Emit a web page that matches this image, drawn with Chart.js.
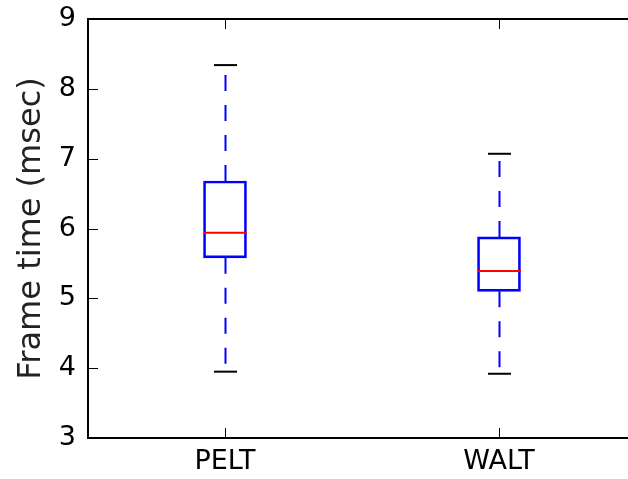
<!DOCTYPE html>
<html>
<head>
<meta charset="utf-8">
<script src="https://cdn.jsdelivr.net/npm/chart.js@4"></script>
<style>
  html, body { margin: 0; padding: 0; background: #fff; overflow: hidden; }
  #wrap { width: 640px; height: 479px; }
</style>
</head>
<body>
<div id="wrap"><canvas id="myChart"></canvas></div>
<script>
// box plot data
const labels = ["PELT", "WALT"];
const whiskerLow = [3.95, 3.92];
const q1 = [5.58, 5.10];
const median = [5.94, 5.39];
const q3 = [6.68, 5.88];
const whiskerHigh = [8.34, 7.07];
const yTicks = [3, 4, 5, 6, 7, 8, 9];

const FONT = "'DejaVu Sans', sans-serif";

// whiskers, caps, median lines, frame and inward ticks
const boxExtras = {
  id: "boxExtras",
  afterDatasetsDraw(chart) {
    const { ctx, chartArea, scales } = chart;
    const x = scales.x, y = scales.y;
    ctx.save();
    labels.forEach((lab, i) => {
      const cx = Math.round(x.getPixelForValue(i)) + 0.5;
      // dashed whiskers
      ctx.strokeStyle = "#0000ff";
      ctx.lineWidth = 2;
      ctx.setLineDash([16, 14]);
      ctx.beginPath();
      ctx.moveTo(cx, y.getPixelForValue(q3[i]));
      ctx.lineTo(cx, y.getPixelForValue(whiskerHigh[i]));
      ctx.stroke();
      ctx.beginPath();
      ctx.moveTo(cx, y.getPixelForValue(q1[i]));
      ctx.lineTo(cx, y.getPixelForValue(whiskerLow[i]));
      ctx.stroke();
      ctx.setLineDash([]);
      // caps
      ctx.strokeStyle = "#000";
      ctx.lineWidth = 2;
      [whiskerHigh[i], whiskerLow[i]].forEach(v => {
        const py = y.getPixelForValue(v);
        ctx.beginPath();
        ctx.moveTo(cx - 11.5, py);
        ctx.lineTo(cx + 11.5, py);
        ctx.stroke();
      });
      // median
      ctx.strokeStyle = "#ff0000";
      const my = y.getPixelForValue(median[i]);
      ctx.beginPath();
      ctx.moveTo(cx - 21.5, my);
      ctx.lineTo(cx + 21.5, my);
      ctx.stroke();
    });
    // frame
    ctx.strokeStyle = "#000";
    ctx.lineWidth = 2;
    ctx.strokeRect(chartArea.left, chartArea.top, chartArea.right - chartArea.left, chartArea.bottom - chartArea.top);
    // inward ticks
    ctx.lineWidth = 1;
    yTicks.forEach(v => {
      const py = Math.round(y.getPixelForValue(v)) + 0.5;
      ctx.beginPath();
      ctx.moveTo(chartArea.left, py);
      ctx.lineTo(chartArea.left + 10, py);
      ctx.stroke();
    });
    labels.forEach((lab, i) => {
      const px = Math.round(x.getPixelForValue(i)) + 0.5;
      ctx.beginPath();
      ctx.moveTo(px, chartArea.bottom);
      ctx.lineTo(px, chartArea.bottom - 10);
      ctx.moveTo(px, chartArea.top);
      ctx.lineTo(px, chartArea.top + 10);
      ctx.stroke();
    });
    ctx.restore();
  }
};

const ctx = document.getElementById("myChart");
new Chart(ctx, {
  type: "bar",
  data: {
    labels: labels,
    datasets: [{
      label: "",
      data: labels.map((l, i) => [q1[i], q3[i]]),
      backgroundColor: "rgba(0,0,0,0)",
      borderColor: "#0000ff",
      borderWidth: 2,
      borderSkipped: false,
      barThickness: 43
    }]
  },
  options: {
    responsive: true,
    maintainAspectRatio: false,
    animation: false,
    layout: { padding: { top: 19, right: 4, left: 0, bottom: 0 } },
    plugins: {
      legend: { display: false },
      tooltip: { enabled: false }
    },
    scales: {
      x: {
        grid: { display: false, drawTicks: false },
        border: { display: false },
        ticks: { color: "#000", font: { family: FONT, size: 27 }, padding: 8 },
        afterFit: scale => { scale.height = 41; }
      },
      y: {
        min: 3,
        max: 9,
        grid: { display: false, drawTicks: false },
        border: { display: false },
        afterBuildTicks: scale => { scale.ticks = yTicks.map(v => ({ value: v })); },
        ticks: { color: "#000", font: { family: FONT, size: 27, lineHeight: 0.5 }, padding: 12 },
        title: {
          display: true,
          text: "Frame time (msec)",
          color: "#222",
          font: { family: FONT, size: 32 },
          padding: { top: 12, bottom: 0 }
        },
        afterFit: scale => { scale.width = 88; }
      }
    }
  },
  plugins: [boxExtras]
});
</script>
</body>
</html>
